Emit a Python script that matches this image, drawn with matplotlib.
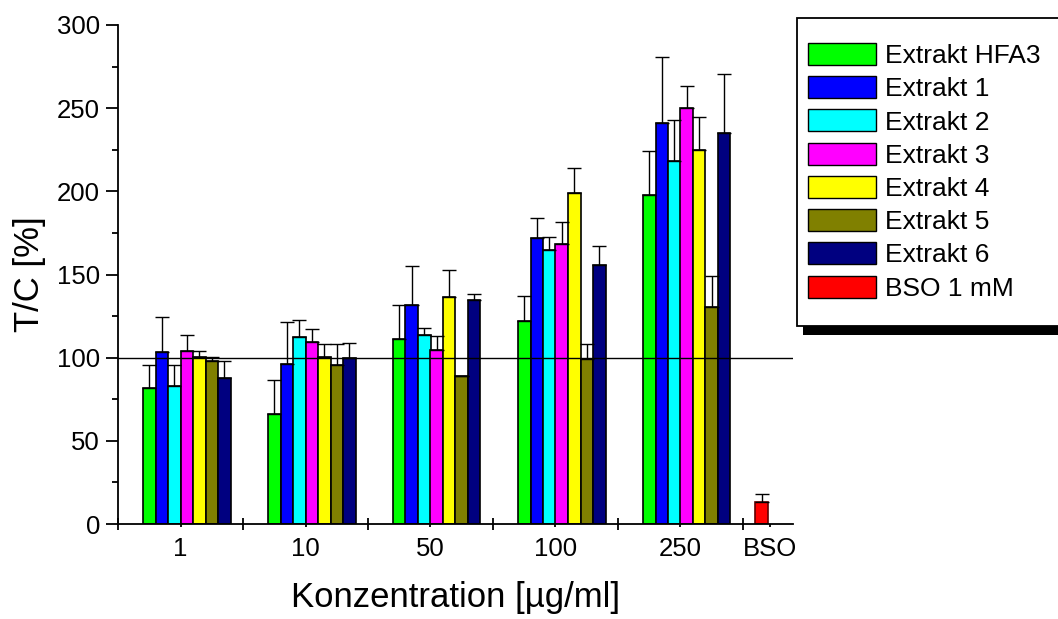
import matplotlib.pyplot as plt
import numpy as np
from matplotlib.patches import Rectangle, Patch

plt.rcParams['font.family'] = ['Liberation Sans', 'DejaVu Sans']

# values
concLabels = ['1', '10', '50', '100', '250', 'BSO']
seriesNames = ['Extrakt HFA3', 'Extrakt 1', 'Extrakt 2', 'Extrakt 3',
               'Extrakt 4', 'Extrakt 5', 'Extrakt 6']
hfa3 = [81.6, 66.3, 111.2, 122.2, 197.8]
hfa3Err = [13.8, 20.3, 20.3, 14.7, 26.2]
ext1 = [103.6, 96.0, 131.5, 171.7, 240.9]
ext1Err = [20.7, 25.6, 23.4, 12.3, 40.0]
ext2 = [83.0, 112.4, 113.8, 164.9, 218.4]
ext2Err = [12.4, 10.0, 3.8, 7.4, 24.7]
ext3 = [104.2, 109.2, 104.8, 168.2, 250.3]
ext3Err = [9.2, 8.2, 8.0, 13.4, 12.9]
ext4 = [100.6, 100.2, 136.3, 199.2, 224.9]
ext4Err = [3.6, 7.8, 16.6, 15.0, 19.7]
ext5 = [98.0, 95.4, 89.2, 99.2, 130.7]
ext5Err = [2.4, 12.6, 0.0, 8.8, 18.6]
ext6 = [87.6, 99.6, 134.5, 155.9, 235.1]
ext6Err = [10.2, 9.4, 4.0, 11.0, 35.6]
bsoVal = [13.0]
bsoErr = [4.8]

colors = ['#00ff00', '#0000ff', '#00ffff', '#ff00ff', '#ffff00', '#808000', '#000080']
bsoColor = '#ff0000'

allVals = [hfa3, ext1, ext2, ext3, ext4, ext5, ext6]
allErrs = [hfa3Err, ext1Err, ext2Err, ext3Err, ext4Err, ext5Err, ext6Err]

fig = plt.figure(figsize=(10.58, 6.19), dpi=100)
ax = fig.add_axes([118/1058, 95/619, 675/1058, 499/619])

w = 0.1
groups = np.arange(5)
for i in range(7):
    x = groups - 0.4 + w*(i + 1) + w/2
    ax.bar(x, allVals[i], width=w, color=colors[i], edgecolor='black', linewidth=1.2, zorder=2)
    ax.errorbar(x, allVals[i], yerr=[np.zeros(5), allErrs[i]], fmt='none',
                ecolor='black', elinewidth=1, capsize=5, capthick=1, zorder=3)

xb = np.array([5 - 0.4 + w/2])
ax.bar(xb, bsoVal, width=w, color=bsoColor, edgecolor='#600000', linewidth=1.2, zorder=2)
ax.errorbar(xb, bsoVal, yerr=[[0], bsoErr], fmt='none', ecolor='black',
            elinewidth=1, capsize=5, capthick=1, zorder=3)

ax.axhline(100, color='black', linewidth=1, zorder=4)

ax.set_xlim(-0.5, 4.9)
ax.set_ylim(0, 300)
ax.spines['top'].set_visible(False)
ax.spines['right'].set_visible(False)
ax.spines['left'].set_linewidth(1.3)
ax.spines['bottom'].set_linewidth(1.3)

ax.set_yticks(np.arange(0, 301, 50))
ax.set_yticks(np.arange(25, 300, 50), minor=True)
ax.tick_params(axis='y', which='major', length=9, width=1.3, direction='out', labelsize=18.5, pad=4)
ax.tick_params(axis='y', which='minor', length=4.5, width=1.3, direction='out')

ax.set_xticks(np.arange(-0.5, 5.0, 1.0))
ax.set_xticklabels([])
ax.set_xticks([0, 1, 2, 3, 4, 4.72], minor=True)
ax.set_xticklabels(concLabels, minor=True)
ax.tick_params(axis='x', which='major', length=9, width=1.3, direction='inout')
ax.tick_params(axis='x', which='minor', length=2, width=1.3, direction='out', labelsize=18.5, pad=7)

ax.set_ylabel('T/C [%]', fontsize=25, labelpad=8)
ax.set_xlabel('Konzentration [µg/ml]', fontsize=25, labelpad=15)

# legend box with shadow, running off the right edge like the original
W, H = 1058, 619
fig.patches.append(Rectangle((803/W, (H-335)/H), 300/W, 9/H, transform=fig.transFigure,
                             facecolor='black', edgecolor='none', zorder=1))
fig.patches.append(Rectangle((797/W, (H-326)/H), 300/W, 308/H, transform=fig.transFigure,
                             facecolor='white', edgecolor='black', linewidth=1.3, zorder=2))

handles = [Patch(facecolor=c, edgecolor='black', linewidth=1) for c in colors]
handles.append(Patch(facecolor=bsoColor, edgecolor='black', linewidth=1))
leg = fig.legend(handles, seriesNames + ['BSO 1 mM'], loc='upper left',
                 bbox_to_anchor=(808/W, (H-43)/H), frameon=False, fontsize=19,
                 handlelength=2.58, handleheight=0.9, handletextpad=0.34,
                 labelspacing=0.31, borderpad=0, borderaxespad=0)
leg.set_zorder(3)

fig.savefig('out.png', dpi=100)
